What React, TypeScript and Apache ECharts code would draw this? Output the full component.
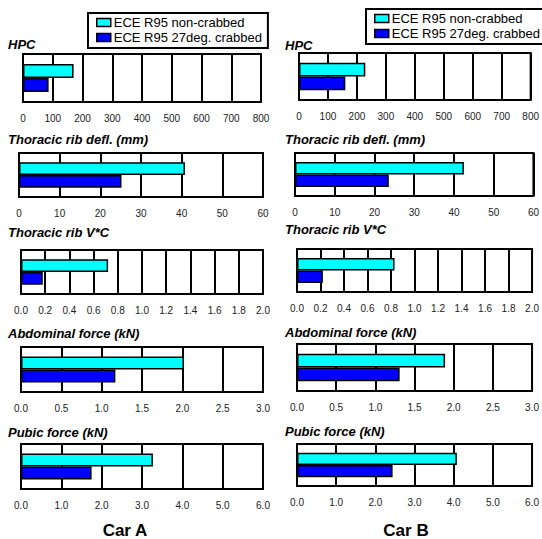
import React, { useEffect, useRef } from "react";
import * as echarts from "echarts";

// Injury criteria shown in each row
const criteria = [
  "HPC",
  "Thoracic rib defl. (mm)",
  "Thoracic rib V*C",
  "Abdominal force (kN)",
  "Pubic force (kN)",
];
const seriesNames = ["ECE R95 non-crabbed", "ECE R95 27deg. crabbed"];
const carNames = ["Car A", "Car B"];

// Measured values per criterion
const carANonCrabbed = [170, 40.8, 0.72, 2.02, 3.27];
const carACrabbed = [86, 25.2, 0.18, 1.17, 1.75];
const carBNonCrabbed = [229, 42.5, 0.83, 1.89, 4.08];
const carBCrabbed = [160, 23.6, 0.22, 1.31, 2.44];

// Axis scales per criterion
const axisMax = [800, 60, 2.0, 3.0, 6.0];
const axisStep = [100, 10, 0.2, 0.5, 1.0];
const labelDecimals = [0, 0, 1, 1, 1];

// Plot boxes [left, top, width, height] for each car column
const boxesA = [
  [23, 54, 238, 48],
  [19, 153, 244, 44],
  [21, 250, 242, 44],
  [21, 347, 242, 45],
  [21, 444, 242, 45],
];
const boxesB = [
  [299, 53, 237, 47],
  [295, 153, 244, 43],
  [297, 249, 241, 43],
  [297, 344, 241, 47],
  [297, 444, 240, 42],
];
const titleTopA = [38, 133, 226, 327, 426];
const titleTopB = [39, 133, 223, 326, 425];

const FONT = "'Liberation Sans', Arial, sans-serif";

export default function App() {
  const ref = useRef<HTMLDivElement>(null);

  useEffect(() => {
    document.body.style.margin = "0";
    if (!ref.current) return;
    const chart = echarts.init(ref.current, null, { renderer: "svg" });

    const grids: any[] = [];
    const xAxes: any[] = [];
    const yAxes: any[] = [];
    const series: any[] = [];
    const titles: any[] = [];

    const columns = [
      { boxes: boxesA, tops: titleTopA, titleX: 8, non: carANonCrabbed, crab: carACrabbed },
      { boxes: boxesB, tops: titleTopB, titleX: 285, non: carBNonCrabbed, crab: carBCrabbed },
    ];

    columns.forEach((col) => {
      criteria.forEach((name, i) => {
        const idx = grids.length;
        const [l, t, w, h] = col.boxes[i];
        grids.push({
          left: l,
          top: t,
          width: w,
          height: h,
          show: true,
          borderColor: "#000",
          borderWidth: 2,
          backgroundColor: "#fff",
          containLabel: false,
        });
        xAxes.push({
          type: "value",
          gridIndex: idx,
          min: 0,
          max: axisMax[i],
          interval: axisStep[i],
          axisLine: { show: false },
          axisTick: { show: false },
          splitLine: { show: true, lineStyle: { color: "#000", width: 2 } },
          axisLabel: {
            show: true,
            margin: 11,
            fontSize: 10,
            fontFamily: FONT,
            color: "#222",
            formatter: (v: number) => v.toFixed(labelDecimals[i]),
          },
        });
        yAxes.push({
          type: "category",
          gridIndex: idx,
          inverse: true,
          data: [name],
          axisLine: { show: false },
          axisTick: { show: false },
          axisLabel: { show: false },
        });
        series.push({
          type: "bar",
          name: seriesNames[0],
          xAxisIndex: idx,
          yAxisIndex: idx,
          data: [col.non[i]],
          barGap: "0%",
          barCategoryGap: "42%",
          itemStyle: { color: "#00ffff", borderColor: "#000", borderWidth: 1.5 },
          z: 3,
        });
        series.push({
          type: "bar",
          name: seriesNames[1],
          xAxisIndex: idx,
          yAxisIndex: idx,
          data: [col.crab[i]],
          barGap: "0%",
          barCategoryGap: "42%",
          itemStyle: { color: "#0000ff", borderColor: "#000", borderWidth: 1.5 },
          z: 3,
        });
        titles.push({
          text: name,
          left: col.titleX,
          top: col.tops[i],
          padding: 0,
          textStyle: {
            fontFamily: FONT,
            fontSize: 13,
            fontStyle: "italic",
            fontWeight: "bold",
            color: "#000",
          },
        });
      });
    });

    const legendBase = {
      orient: "vertical",
      selectedMode: false,
      data: seriesNames,
      backgroundColor: "#fff",
      borderColor: "#000",
      borderWidth: 2,
      borderRadius: 0,
      padding: [3, 6, 4, 8],
      itemWidth: 14,
      itemHeight: 8,
      itemGap: 2,
      icon: "rect",
      itemStyle: { borderColor: "#000", borderWidth: 1.5 },
      textStyle: { fontFamily: FONT, fontSize: 13, color: "#000", padding: [0, 0, 0, -2] },
    };

    chart.setOption({
      animation: false,
      backgroundColor: "#fff",
      title: titles,
      legend: [
        { ...legendBase, left: 88, top: 13 },
        { ...legendBase, left: 366, top: 9 },
      ],
      grid: grids,
      xAxis: xAxes,
      yAxis: yAxes,
      series,
      graphic: [
        {
          type: "text",
          x: 125,
          y: 530,
          style: {
            text: carNames[0],
            fontFamily: FONT,
            fontSize: 17,
            fontWeight: "bold",
            fill: "#000",
            textAlign: "center",
            textVerticalAlign: "middle",
          },
        },
        {
          type: "text",
          x: 406,
          y: 530,
          style: {
            text: carNames[1],
            fontFamily: FONT,
            fontSize: 17,
            fontWeight: "bold",
            fill: "#000",
            textAlign: "center",
            textVerticalAlign: "middle",
          },
        },
      ],
    });

    return () => chart.dispose();
  }, []);

  return <div ref={ref} style={{ width: 542, height: 539 }} />;
}
